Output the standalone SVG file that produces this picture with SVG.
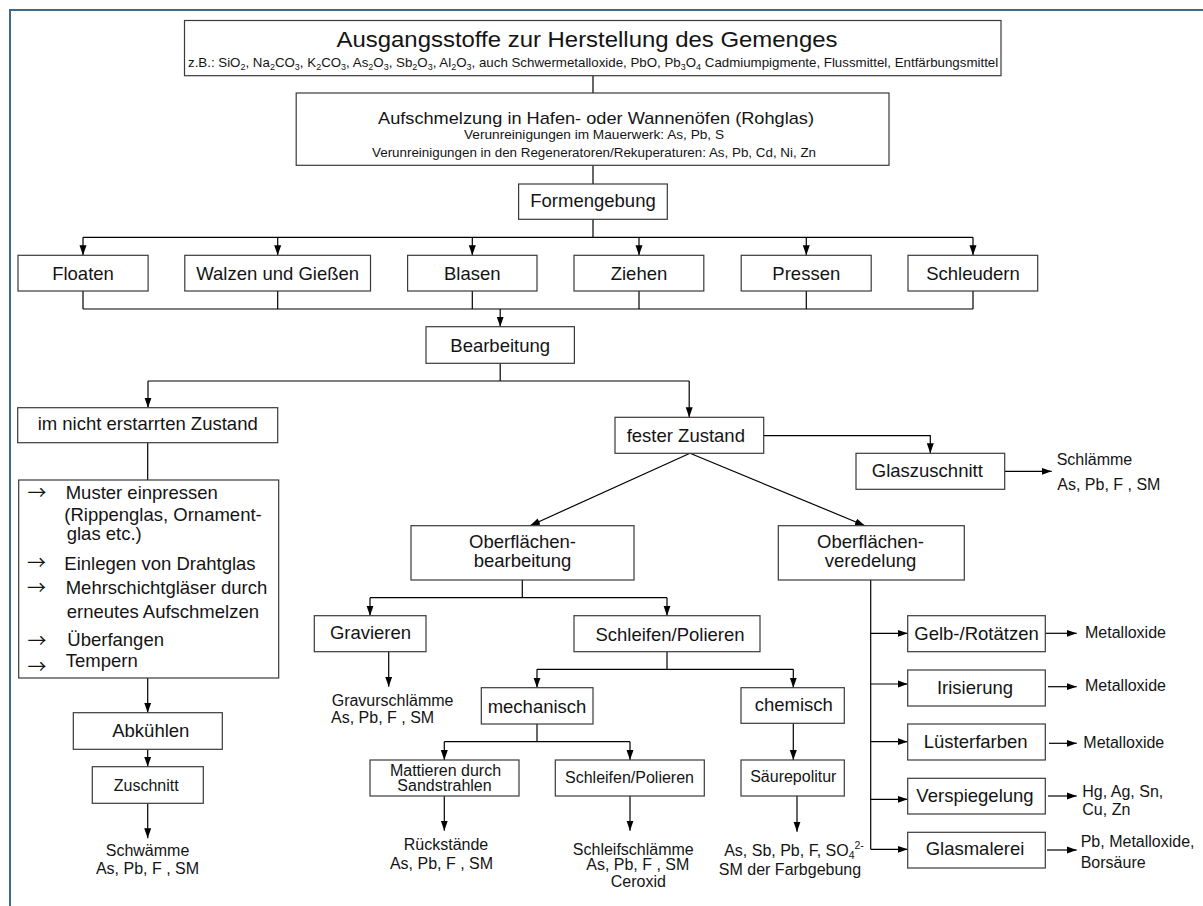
<svg xmlns="http://www.w3.org/2000/svg" width="1203" height="906" viewBox="0 0 1203 906">
<style>
.t{font-family:"Liberation Sans",Arial,sans-serif;fill:#141414}
.arw{font-family:"Noto Sans CJK JP","DejaVu Sans",sans-serif;font-size:19px;fill:#141414}
.m{text-anchor:middle}
.f18{font-size:18.5px}
.f16{font-size:16px}
.f13{font-size:13.3px}
.s9{font-size:9px}
.s10{font-size:10.5px}
.box{fill:#fff;stroke:#3a3a3a;stroke-width:1.2}
.ln{fill:none;stroke:#000;stroke-width:1.2}
.ar{fill:none;stroke:#000;stroke-width:1.2;marker-end:url(#ah)}
</style>
<defs>
<marker id="ah" markerUnits="userSpaceOnUse" markerWidth="10" markerHeight="8" viewBox="0 0 10 7" refX="10" refY="3.5" orient="auto">
<path d="M0,0 L10,3.5 L0,7 z" fill="#000"/>
</marker>
</defs>
<rect x="0" y="0" width="1203" height="906" fill="#fff"/>
<rect x="10" y="10" width="1260" height="960" fill="none" stroke="#3d6a87" stroke-width="2"/>

<g id="connectors">
<line class="ln" x1="593" y1="75.7" x2="593" y2="93"/>
<line class="ln" x1="593" y1="165.3" x2="593" y2="184"/>
<line class="ln" x1="593" y1="219.3" x2="593" y2="237.3" stroke-width="2.2"/>
<line class="ln" x1="83" y1="237.3" x2="973" y2="237.3"/>
<line class="ar" x1="83" y1="237.3" x2="83" y2="255.3"/>
<line class="ar" x1="277.7" y1="237.3" x2="277.7" y2="255.3"/>
<line class="ar" x1="472.3" y1="237.3" x2="472.3" y2="255.3"/>
<line class="ar" x1="639" y1="237.3" x2="639" y2="255.3"/>
<line class="ar" x1="806.3" y1="237.3" x2="806.3" y2="255.3"/>
<line class="ar" x1="973" y1="237.3" x2="973" y2="255.3"/>
<line class="ln" x1="83" y1="291" x2="83" y2="309"/>
<line class="ln" x1="277.7" y1="291" x2="277.7" y2="309"/>
<line class="ln" x1="472.3" y1="291" x2="472.3" y2="309"/>
<line class="ln" x1="639" y1="291" x2="639" y2="309"/>
<line class="ln" x1="806.3" y1="291" x2="806.3" y2="309"/>
<line class="ln" x1="973" y1="291" x2="973" y2="309"/>
<line class="ln" x1="83" y1="309" x2="973" y2="309"/>
<line class="ar" x1="500.2" y1="309" x2="500.2" y2="326.7"/>
<line class="ln" x1="500.2" y1="363.3" x2="500.2" y2="381"/>
<line class="ln" x1="148" y1="381" x2="689.2" y2="381"/>
<line class="ar" x1="148" y1="381" x2="148" y2="407.7"/>
<line class="ar" x1="689.2" y1="381" x2="689.2" y2="417.3"/>
<line class="ln" x1="147.7" y1="442.7" x2="147.7" y2="480"/>
<line class="ar" x1="147.7" y1="678" x2="147.7" y2="712.7"/>
<line class="ar" x1="147.7" y1="749.3" x2="147.7" y2="766.7"/>
<line class="ar" x1="147.7" y1="803.3" x2="147.7" y2="838.3"/>
<polyline class="ar" points="763.7,435.7 930.3,435.7 930.3,453.3"/>
<line class="ar" x1="690" y1="453.3" x2="530" y2="525.7"/>
<line class="ar" x1="690" y1="453.3" x2="865" y2="525.7"/>
<line class="ar" x1="1004.7" y1="471.3" x2="1051.7" y2="471.3"/>
<line class="ln" x1="522.3" y1="580" x2="522.3" y2="597.7"/>
<line class="ln" x1="370" y1="597.7" x2="667" y2="597.7"/>
<line class="ar" x1="370" y1="597.7" x2="370" y2="615.7"/>
<line class="ar" x1="667" y1="597.7" x2="667" y2="615.7"/>
<line class="ar" x1="388.7" y1="651.7" x2="388.7" y2="686.7"/>
<line class="ln" x1="667" y1="651.7" x2="667" y2="669.3"/>
<line class="ln" x1="537" y1="669.3" x2="793.3" y2="669.3"/>
<line class="ar" x1="537" y1="669.3" x2="537" y2="687.7"/>
<line class="ar" x1="793.3" y1="669.3" x2="793.3" y2="687.7"/>
<line class="ln" x1="537" y1="724" x2="537" y2="741.7"/>
<line class="ln" x1="444.3" y1="741.7" x2="630" y2="741.7"/>
<line class="ar" x1="444.3" y1="741.7" x2="444.3" y2="760"/>
<line class="ar" x1="630" y1="741.7" x2="630" y2="760"/>
<line class="ar" x1="444.3" y1="796" x2="444.3" y2="830.7"/>
<line class="ar" x1="630" y1="796" x2="630" y2="830.7"/>
<line class="ar" x1="793.3" y1="723.3" x2="793.3" y2="760"/>
<line class="ar" x1="797" y1="796" x2="797" y2="831.7"/>
<line class="ln" x1="870.7" y1="580" x2="870.7" y2="849.3" stroke-width="2"/>
<line class="ar" x1="870.7" y1="633.3" x2="907.7" y2="633.3"/>
<line class="ar" x1="870.7" y1="684" x2="907.7" y2="684"/>
<line class="ar" x1="870.7" y1="741.7" x2="907.7" y2="741.7"/>
<line class="ar" x1="870.7" y1="799.3" x2="907.7" y2="799.3"/>
<line class="ar" x1="870.7" y1="849.3" x2="907.7" y2="849.3"/>
<line class="ar" x1="1045.3" y1="633.3" x2="1076.7" y2="633.3"/>
<line class="ar" x1="1048" y1="686.7" x2="1076.7" y2="686.7"/>
<line class="ar" x1="1049" y1="743.3" x2="1076.7" y2="743.3"/>
<line class="ar" x1="1048" y1="796" x2="1076.7" y2="796"/>
<line class="ar" x1="1047" y1="850" x2="1076.7" y2="850"/>
</g>

<g id="ausgangsstoffe">
<rect class="box" x="184.5" y="20.5" width="816.5" height="55.2"/>
<text class="t m" x="587" y="47" font-size="21.5" textLength="501" lengthAdjust="spacingAndGlyphs">Ausgangsstoffe zur Herstellung des Gemenges</text>
<text class="t f13" x="188" y="67">z.B.: SiO<tspan class="s9" dy="2.5">2</tspan><tspan dy="-2.5">, Na</tspan><tspan class="s9" dy="2.5">2</tspan><tspan dy="-2.5">CO</tspan><tspan class="s9" dy="2.5">3</tspan><tspan dy="-2.5">, K</tspan><tspan class="s9" dy="2.5">2</tspan><tspan dy="-2.5">CO</tspan><tspan class="s9" dy="2.5">3</tspan><tspan dy="-2.5">, As</tspan><tspan class="s9" dy="2.5">2</tspan><tspan dy="-2.5">O</tspan><tspan class="s9" dy="2.5">3</tspan><tspan dy="-2.5">, Sb</tspan><tspan class="s9" dy="2.5">2</tspan><tspan dy="-2.5">O</tspan><tspan class="s9" dy="2.5">3</tspan><tspan dy="-2.5">, Al</tspan><tspan class="s9" dy="2.5">2</tspan><tspan dy="-2.5">O</tspan><tspan class="s9" dy="2.5">3</tspan><tspan dy="-2.5">, auch Schwermetalloxide, PbO, Pb</tspan><tspan class="s9" dy="2.5">3</tspan><tspan dy="-2.5">O</tspan><tspan class="s9" dy="2.5">4</tspan><tspan dy="-2.5"> Cadmiumpigmente, Flussmittel, Entfärbungsmittel</tspan></text>
</g>

<g id="aufschmelzung">
<rect class="box" x="296.2" y="93" width="592.8" height="72.3"/>
<text class="t m" x="596" y="123.5" font-size="17" textLength="436" lengthAdjust="spacingAndGlyphs">Aufschmelzung in Hafen- oder Wannenöfen (Rohglas)</text>
<text class="t m" x="594" y="139" font-size="12" textLength="260" lengthAdjust="spacingAndGlyphs">Verunreinigungen im Mauerwerk:  As, Pb, S</text>
<text class="t m" x="594" y="157" font-size="12" textLength="444" lengthAdjust="spacingAndGlyphs">Verunreinigungen in den Regeneratoren/Rekuperaturen: As, Pb, Cd, Ni, Zn</text>
</g>

<g id="formengebung">
<rect class="box" x="518.6" y="184" width="148.7" height="35.3"/>
<text class="t m f18" x="593" y="207">Formengebung</text>
</g>

<g id="floaten"><rect class="box" x="18" y="255.3" width="130.1" height="35.7"/><text class="t m f18" x="83" y="280">Floaten</text></g>
<g id="walzen"><rect class="box" x="184.8" y="255.3" width="185.7" height="35.7"/><text class="t m f18" x="277.7" y="280">Walzen und Gießen</text></g>
<g id="blasen"><rect class="box" x="407.6" y="255.3" width="129.4" height="35.7"/><text class="t m f18" x="472.3" y="280">Blasen</text></g>
<g id="ziehen"><rect class="box" x="574" y="255.3" width="129.8" height="35.7"/><text class="t m f18" x="639" y="280">Ziehen</text></g>
<g id="pressen"><rect class="box" x="741.2" y="255.3" width="130" height="35.7"/><text class="t m f18" x="806.3" y="280">Pressen</text></g>
<g id="schleudern"><rect class="box" x="908" y="255.3" width="129.7" height="35.7"/><text class="t m f18" x="973" y="280">Schleudern</text></g>

<g id="bearbeitung"><rect class="box" x="426" y="326.7" width="148.4" height="36.6"/><text class="t m f18" x="500.2" y="352">Bearbeitung</text></g>

<g id="nicht-erstarrt"><rect class="box" x="17.7" y="407.7" width="260" height="35"/><text class="t m f18" x="147.7" y="430">im nicht erstarrten Zustand</text></g>

<g id="verfahren">
<rect class="box" x="18.7" y="480" width="260" height="198"/>
<text class="arw" x="27.5" y="500">→</text>
<text class="t f18" x="65.7" y="499.3">Muster einpressen</text>
<text class="t f18" x="64.3" y="520.5">(Rippenglas, Ornament-</text>
<text class="t f18" x="66.7" y="540">glas etc.)</text>
<text class="arw" x="27" y="570">→</text>
<text class="t f18" x="64.3" y="570">Einlegen von Drahtglas</text>
<text class="arw" x="27" y="595">→</text>
<text class="t f18" x="65.7" y="594">Mehrschichtgläser durch</text>
<text class="t f18" x="66.7" y="618.3">erneutes Aufschmelzen</text>
<text class="arw" x="27.5" y="647.5">→</text>
<text class="t f18" x="67.3" y="645.7">Überfangen</text>
<text class="arw" x="27.5" y="673.5">→</text>
<text class="t f18" x="65.7" y="667.3">Tempern</text>
</g>

<g id="abkuehlen"><rect class="box" x="73.3" y="712.7" width="149" height="36.6"/><text class="t m f18" x="150.8" y="736.7">Abkühlen</text></g>
<g id="zuschnitt"><rect class="box" x="92.3" y="766.7" width="111" height="36.6"/><text class="t m f16" x="146.2" y="791">Zuschnitt</text></g>
<g id="schwaemme"><text class="t m f16" x="147.5" y="856">Schwämme</text><text class="t m f16" x="147.5" y="874">As, Pb, F , SM</text></g>

<g id="fester-zustand"><rect class="box" x="615" y="417.3" width="148.7" height="36"/><text class="t f18" x="626.7" y="441.7">fester Zustand</text></g>

<g id="glaszuschnitt"><rect class="box" x="856" y="453.3" width="148.7" height="36"/><text class="t m f18" x="927.3" y="477.3">Glaszuschnitt</text></g>
<g id="schlaemme"><text class="t f16" x="1056.7" y="465">Schlämme</text><text class="t f16" x="1057.3" y="490">As, Pb, F , SM</text></g>

<g id="oberflaechenbearbeitung"><rect class="box" x="411" y="525.7" width="223" height="54.3"/><text class="t m f18" x="522.5" y="547.7">Oberflächen-</text><text class="t m f18" x="522.5" y="566.7">bearbeitung</text></g>
<g id="oberflaechenveredelung"><rect class="box" x="778.3" y="525.7" width="186" height="54.3"/><text class="t m f18" x="870.5" y="547.7">Oberflächen-</text><text class="t m f18" x="870.5" y="566.7">veredelung</text></g>

<g id="gravieren"><rect class="box" x="314.3" y="615.7" width="111.7" height="36"/><text class="t m f18" x="370.5" y="639">Gravieren</text></g>
<g id="gravurschlaemme"><text class="t f16" x="331.7" y="705.7">Gravurschlämme</text><text class="t f16" x="331" y="723.3">As, Pb, F , SM</text></g>

<g id="schleifen-polieren"><rect class="box" x="574" y="615.7" width="186" height="36"/><text class="t m f18" x="670" y="641">Schleifen/Polieren</text></g>
<g id="mechanisch"><rect class="box" x="481.3" y="687.7" width="111.7" height="36.3"/><text class="t m f18" x="537" y="712.7">mechanisch</text></g>
<g id="chemisch"><rect class="box" x="741" y="687.7" width="103.3" height="35.6"/><text class="t m f18" x="793.8" y="711">chemisch</text></g>

<g id="mattieren"><rect class="box" x="370" y="760" width="149" height="36"/><text class="t m f16" x="445.5" y="776">Mattieren durch</text><text class="t m f16" x="444.5" y="790.7">Sandstrahlen</text></g>
<g id="schleifen-polieren-2"><rect class="box" x="555.3" y="760" width="149" height="36"/><text class="t m f16" x="629.5" y="783.3">Schleifen/Polieren</text></g>
<g id="saeurepolitur"><rect class="box" x="741" y="760" width="103.3" height="36"/><text class="t m f16" x="793.3" y="781.7">Säurepolitur</text></g>

<g id="rueckstaende"><text class="t m f16" x="446" y="850">Rückstände</text><text class="t m f16" x="441.5" y="869.3">As, Pb, F , SM</text></g>
<g id="schleifschlaemme"><text class="t m f16" x="633.3" y="855">Schleifschlämme</text><text class="t m f16" x="637.8" y="870">As, Pb, F , SM</text><text class="t m f16" x="638.3" y="887.3">Ceroxid</text></g>
<g id="saeure-rueckstaende"><text class="t m f16" x="794" y="856">As, Sb, Pb, F, SO<tspan class="s10" dy="3">4</tspan><tspan class="s10" dy="-10">2-</tspan></text><text class="t m f16" x="790" y="875">SM der Farbgebung</text></g>

<g id="gelb-rotaetzen"><rect class="box" x="907.7" y="615.7" width="137.6" height="36"/><text class="t m f18" x="976.5" y="640">Gelb-/Rotätzen</text></g>
<g id="irisierung"><rect class="box" x="907.7" y="670" width="137.6" height="36"/><text class="t m f18" x="975" y="694.3">Irisierung</text></g>
<g id="luesterfarben"><rect class="box" x="907.7" y="724" width="137.6" height="36"/><text class="t m f18" x="975.7" y="748.3">Lüsterfarben</text></g>
<g id="verspiegelung"><rect class="box" x="907.7" y="778.3" width="137.6" height="35.7"/><text class="t m f18" x="975" y="801.7">Verspiegelung</text></g>
<g id="glasmalerei"><rect class="box" x="907.7" y="832.3" width="137.6" height="35.7"/><text class="t m f18" x="975" y="855">Glasmalerei</text></g>

<g id="metalloxide-1"><text class="t f16" x="1085" y="638.3">Metalloxide</text></g>
<g id="metalloxide-2"><text class="t f16" x="1085" y="691">Metalloxide</text></g>
<g id="metalloxide-3"><text class="t f16" x="1083.3" y="748.3">Metalloxide</text></g>
<g id="spiegelmetalle"><text class="t f16" x="1082.3" y="796.7">Hg, Ag, Sn,</text><text class="t f16" x="1082.3" y="815">Cu, Zn</text></g>
<g id="malerei-stoffe"><text class="t f16" x="1080.7" y="846.7">Pb, Metalloxide,</text><text class="t f16" x="1080.7" y="868.3">Borsäure</text></g>
</svg>
